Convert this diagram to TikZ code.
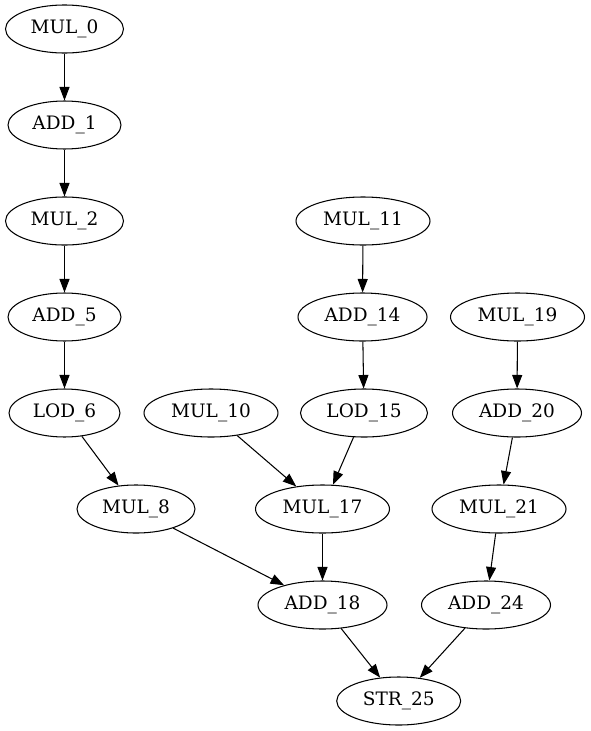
\documentclass[tikz,border=0pt]{standalone}
\usepackage{fontspec}
\setmainfont{DejaVu Serif}
\usetikzlibrary{shapes.geometric,arrows.meta}
\begin{document}
\begin{tikzpicture}[x=1pt,y=-1pt,
  nd/.style={ellipse,draw,line width=1.05pt,inner sep=0pt,minimum height=48pt,
    font=\fontsize{18.5}{20}\selectfont},
  wA/.style={nd,minimum width=118pt},
  wB/.style={nd,minimum width=134pt},
  wC/.style={nd,minimum width=113pt},
  wD/.style={nd,minimum width=129pt},
  wE/.style={nd,minimum width=111pt},
  wF/.style={nd,minimum width=127pt},
  wG/.style={nd,minimum width=124pt},
  edge/.style={line width=1.05pt,-{Triangle[length=13.5pt,width=10pt]}}]
\useasboundingbox (0,0) rectangle (590,731);
\node[wA] (mul0) at (64.5,29) {MUL\_0};
\node[wC] (add1) at (64.5,125) {ADD\_1};
\node[wA] (mul2) at (64.5,221) {MUL\_2};
\node[wC] (add5) at (64.5,317) {ADD\_5};
\node[wE] (lod6) at (64.5,413) {LOD\_6};
\node[wA] (mul8) at (136,509) {MUL\_8};
\node[wB] (mul10) at (211,413) {MUL\_10};
\node[wB] (mul11) at (363,221) {MUL\_11};
\node[wD] (add14) at (362.5,317) {ADD\_14};
\node[wF] (lod15) at (364,413) {LOD\_15};
\node[wB] (mul17) at (322.5,509) {MUL\_17};
\node[wB] (mul19) at (517.5,317) {MUL\_19};
\node[wD] (add20) at (517,413) {ADD\_20};
\node[wB] (mul21) at (499,509) {MUL\_21};
\node[wD] (add18) at (322.5,605) {ADD\_18};
\node[wD] (add24) at (486,605) {ADD\_24};
\node[wG] (str25) at (398.7,701) {STR\_25};
\draw[edge] (mul0) -- (add1);
\draw[edge] (add1) -- (mul2);
\draw[edge] (mul2) -- (add5);
\draw[edge] (add5) -- (lod6);
\draw[edge] (lod6) -- (mul8);
\draw[edge] (mul8) -- (add18);
\draw[edge] (mul10) -- (mul17);
\draw[edge] (mul11) -- (add14);
\draw[edge] (add14) -- (lod15);
\draw[edge] (lod15) -- (mul17);
\draw[edge] (mul17) -- (add18);
\draw[edge] (mul19) -- (add20);
\draw[edge] (add20) -- (mul21);
\draw[edge] (mul21) -- (add24);
\draw[edge] (add18) -- (str25);
\draw[edge] (add24) -- (str25);
\end{tikzpicture}
\end{document}
